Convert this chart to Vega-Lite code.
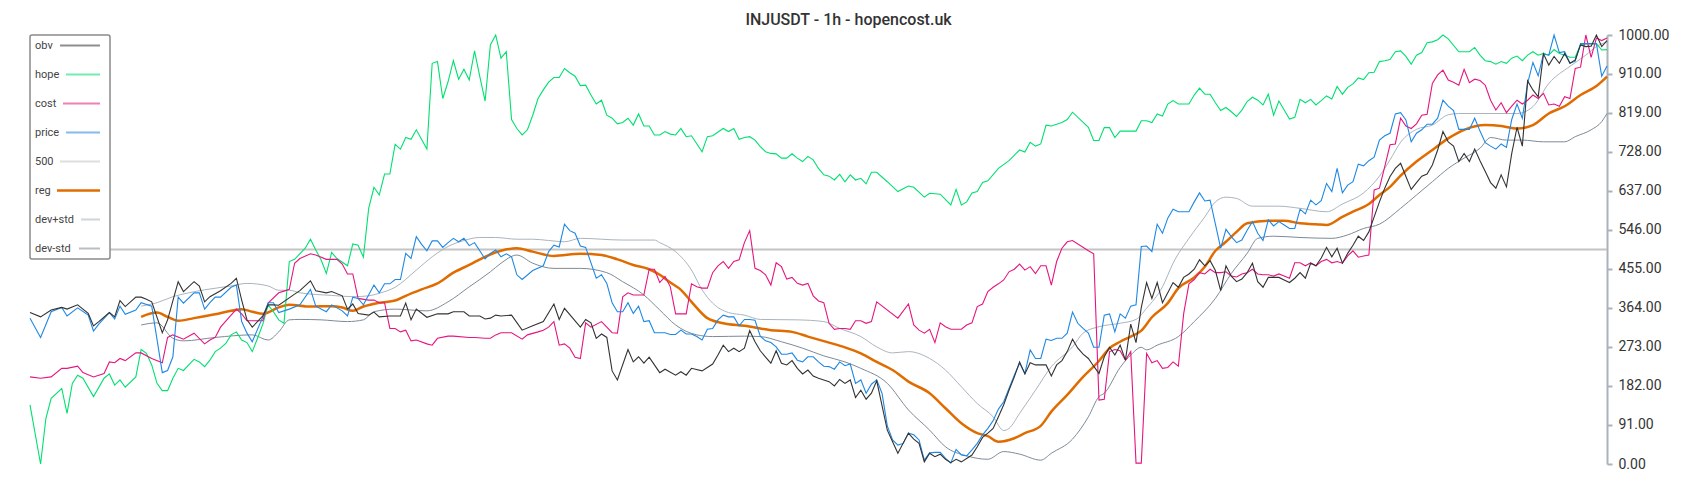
{
"$schema": "https://vega.github.io/schema/vega-lite/v6.json",
"width": 1577, "height": 429,
"autosize": {"type": "none"},
"padding": {"left": 30, "top": 35, "right": 93, "bottom": 36},
"background": "white",
"config": {"view": {"stroke": null}, "font": "Roboto"},
"title": {"text": "INJUSDT - 1h - hopencost.uk", "font": "Roboto", "fontSize": 16, "fontWeight": 500, "color": "#333333", "anchor": "middle", "frame": "group", "dx": 30, "dy": 15, "offset": 2, "baseline": "alphabetic"},
"data": {"values": [
{"i":0,"obv":353,"hope":138,"cost":203,"price":340},
{"i":2,"obv":343,"hope":0,"cost":200,"price":295},
{"i":3,"hope":106},
{"i":4,"obv":359,"hope":153,"cost":203,"price":355},
{"i":6,"obv":365,"hope":176,"cost":223,"price":365},
{"i":7,"obv":361,"hope":118,"cost":223,"price":345},
{"i":8,"hope":188},
{"i":9,"obv":371,"hope":207,"cost":228,"price":364},
{"i":10,"hope":200,"cost":213},
{"i":11,"obv":351,"price":347},
{"i":12,"obv":322,"hope":157,"cost":203,"price":310},
{"i":13,"obv":332,"price":326},
{"i":14,"hope":200,"cost":211},
{"i":15,"obv":353,"hope":210,"cost":238,"price":353},
{"i":16,"obv":343,"hope":184,"cost":236,"price":338},
{"i":17,"obv":381,"hope":196,"cost":246,"price":368},
{"i":18,"obv":367,"hope":179,"cost":241,"price":349},
{"i":20,"obv":389,"hope":203,"cost":259,"price":359},
{"i":21,"obv":389,"hope":267,"cost":259,"price":376,"reg":343,"dev+std":368,"dev-std":324},
{"i":22,"obv":384,"hope":258},
{"i":23,"obv":378,"hope":231,"cost":246,"price":368},
{"i":24,"hope":188,"reg":353,"dev+std":376,"dev-std":329},
{"i":25,"obv":306,"hope":171,"cost":236,"price":213},
{"i":26,"obv":336,"hope":171,"cost":295,"price":218,"reg":343},
{"i":27,"hope":200,"cost":301,"price":250,"dev+std":390,"dev-std":293},
{"i":28,"obv":425,"hope":223,"price":389,"reg":334},
{"i":29,"obv":402,"hope":218,"cost":291,"price":375,"dev-std":287},
{"i":30,"hope":231,"dev+std":399},
{"i":31,"obv":425,"hope":244,"cost":305,"price":399,"reg":340},
{"i":32,"obv":415,"hope":238,"price":399},
{"i":33,"obv":378,"hope":227,"cost":280,"price":361,"dev+std":406},
{"i":34,"obv":390,"hope":242,"cost":289,"price":376},
{"i":35,"hope":262,"cost":295,"price":389,"reg":349,"dev-std":295},
{"i":36,"obv":404,"hope":270,"cost":319,"price":389},
{"i":37,"hope":281},
{"i":38,"obv":421,"hope":301,"cost":347,"price":412,"reg":357,"dev+std":415},
{"i":39,"obv":433,"hope":308,"cost":361,"price":417},
{"i":40,"obv":382,"hope":289,"cost":350,"price":332,"reg":361},
{"i":41,"obv":336,"hope":283,"cost":334,"price":305,"dev+std":421},
{"i":42,"obv":319,"hope":262,"cost":334,"price":285,"reg":355,"dev-std":301},
{"i":43,"hope":293},
{"i":44,"obv":345,"hope":326,"cost":334,"price":343,"reg":350},
{"i":45,"obv":371,"hope":371,"cost":375,"price":376,"dev+std":415,"dev-std":289},
{"i":46,"obv":371,"hope":355,"price":376},
{"i":47,"obv":370,"hope":336,"cost":399,"price":353,"reg":365,"dev+std":405,"dev-std":308},
{"i":48,"hope":328,"cost":403},
{"i":49,"hope":472,"cost":407,"price":361,"reg":371,"dev+std":405,"dev-std":336},
{"i":50,"obv":396,"hope":477,"cost":468},
{"i":51,"obv":404,"cost":479,"price":371,"dev+std":399,"dev-std":337},
{"i":52,"hope":503},
{"i":53,"obv":427,"hope":524,"cost":490,"price":407,"reg":367},
{"i":54,"obv":404,"hope":499,"cost":487,"price":368},
{"i":55,"hope":476,"dev-std":336},
{"i":56,"obv":399,"hope":444,"cost":477,"price":355},
{"i":57,"obv":402,"hope":493,"price":371,"reg":368,"dev+std":393},
{"i":58,"hope":479,"cost":477},
{"i":59,"obv":392,"cost":466,"price":357,"reg":365},
{"i":60,"obv":361,"hope":462,"cost":443,"price":345,"dev-std":332},
{"i":61,"obv":373,"hope":513,"cost":443,"price":389,"reg":357,"dev+std":390},
{"i":62,"obv":351,"hope":510,"cost":386,"price":386},
{"i":63,"hope":482,"price":371,"reg":367,"dev-std":336},
{"i":64,"obv":347,"hope":596,"cost":382,"dev+std":392},
{"i":65,"obv":354,"hope":645,"cost":382,"price":417,"dev-std":355},
{"i":66,"obv":343,"hope":627,"cost":376,"price":399,"reg":376,"dev+std":398},
{"i":67,"hope":676,"cost":376,"price":420},
{"i":68,"obv":345,"hope":676,"cost":316,"price":420},
{"i":69,"obv":345,"hope":745,"cost":316,"price":430,"reg":381,"dev+std":412,"dev-std":361},
{"i":70,"obv":345,"hope":734,"cost":308,"price":430},
{"i":71,"obv":375,"hope":761,"cost":312,"price":491,"reg":392},
{"i":72,"obv":336,"hope":757,"cost":287,"price":479},
{"i":73,"obv":361,"hope":779,"cost":289,"price":530,"dev+std":452},
{"i":74,"price":512,"reg":407},
{"i":75,"obv":342,"hope":734,"cost":280,"price":497,"dev-std":357},
{"i":76,"hope":934,"cost":277,"price":520,"dev+std":483},
{"i":77,"obv":350,"hope":938,"cost":293,"price":520,"reg":421},
{"i":78,"hope":852,"price":505},
{"i":79,"obv":350,"hope":891,"cost":298,"price":516,"dev+std":507,"dev-std":378},
{"i":80,"obv":355,"hope":940,"cost":298,"price":526,"reg":446},
{"i":81,"obv":355,"hope":897,"price":518},
{"i":82,"obv":355,"hope":920,"price":526,"dev+std":521},
{"i":83,"obv":345,"hope":895,"cost":295,"price":509,"reg":464,"dev-std":413},
{"i":84,"hope":963,"cost":295,"price":516},
{"i":85,"obv":345,"hope":903,"dev+std":528},
{"i":86,"obv":338,"hope":846,"cost":293,"price":478,"reg":483},
{"i":87,"obv":340,"hope":977,"cost":293,"price":491,"dev-std":448},
{"i":88,"obv":347,"hope":1000,"cost":301,"price":499,"dev+std":528},
{"i":89,"obv":345,"hope":946,"cost":306,"price":483,"reg":497,"dev-std":468},
{"i":90,"hope":961,"price":490},
{"i":91,"obv":347,"hope":803,"cost":306,"price":483},
{"i":92,"hope":782,"price":441,"reg":503,"dev+std":524,"dev-std":487},
{"i":93,"obv":312,"hope":767,"cost":291,"price":430},
{"i":94,"hope":779,"cost":301},
{"i":95,"obv":322,"hope":813,"price":451,"reg":495,"dev+std":524,"dev-std":468},
{"i":96,"hope":852,"cost":308},
{"i":97,"obv":332,"hope":872,"cost":312,"price":462},
{"i":98,"hope":890,"cost":319,"price":495,"dev+std":521},
{"i":99,"obv":373,"hope":901,"cost":332,"price":510,"reg":485,"dev-std":456},
{"i":100,"obv":337,"hope":901,"cost":277,"price":506},
{"i":101,"obv":363,"hope":922,"cost":280,"price":559,"dev+std":518},
{"i":102,"hope":912,"cost":270,"price":544},
{"i":103,"hope":904,"cost":249,"price":538},
{"i":104,"obv":319,"hope":882,"cost":246,"price":508,"reg":490,"dev+std":526,"dev-std":456},
{"i":105,"obv":337,"hope":883,"cost":329,"price":505},
{"i":106,"obv":329,"hope":860,"cost":319},
{"i":107,"obv":293,"hope":839,"price":433},
{"i":108,"obv":303,"hope":848,"cost":332,"price":441,"reg":487},
{"i":109,"obv":295,"hope":813,"cost":319,"price":421,"dev-std":446},
{"i":110,"obv":217,"hope":806,"cost":306,"price":376},
{"i":111,"obv":196,"hope":793,"cost":305,"price":355,"reg":477},
{"i":112,"hope":796,"cost":390,"price":355,"dev+std":522,"dev-std":425},
{"i":113,"obv":267,"hope":806,"cost":399,"price":376},
{"i":114,"obv":238,"hope":790,"cost":394,"price":351,"reg":464},
{"i":115,"obv":250,"hope":816,"cost":394,"price":368},
{"i":116,"obv":235,"hope":788,"cost":394,"price":332,"dev-std":394},
{"i":117,"obv":249,"hope":788,"cost":454,"price":334,"reg":454},
{"i":118,"hope":767,"cost":454,"price":306,"dev+std":522},
{"i":119,"obv":213,"hope":767,"cost":423,"price":306,"reg":441,"dev+std":516,"dev-std":359},
{"i":120,"obv":221,"hope":775,"cost":437,"price":306},
{"i":121,"hope":769,"cost":413,"price":302,"reg":423},
{"i":122,"obv":207,"hope":767,"cost":350,"price":302,"dev+std":495,"dev-std":324},
{"i":123,"obv":215,"hope":782,"cost":350,"price":312,"reg":406},
{"i":124,"obv":207,"hope":763,"cost":350,"price":303},
{"i":125,"obv":223,"hope":765,"cost":420,"price":303,"reg":378,"dev+std":452},
{"i":126,"cost":413,"price":297,"dev-std":301},
{"i":127,"obv":217,"hope":728,"cost":410,"price":289,"dev+std":406},
{"i":128,"hope":763,"cost":410,"price":314,"reg":340},
{"i":129,"obv":233,"hope":765,"cost":446,"price":316,"dev+std":375,"dev-std":297},
{"i":130,"obv":254,"cost":462,"price":336},
{"i":131,"obv":277,"hope":782,"cost":472,"price":347,"reg":328},
{"i":132,"obv":262,"hope":775,"cost":456,"price":343,"dev+std":353},
{"i":133,"obv":270,"hope":782,"cost":472,"price":343},
{"i":134,"obv":262,"hope":757,"cost":476,"price":322},
{"i":135,"obv":270,"hope":761,"cost":516,"price":337,"reg":322,"dev+std":347,"dev-std":298},
{"i":136,"obv":311,"hope":763,"cost":544,"price":337},
{"i":137,"obv":285,"hope":755,"cost":456,"price":335},
{"i":138,"obv":264,"hope":740,"cost":451,"price":298,"dev+std":337,"dev-std":297},
{"i":139,"obv":249,"hope":728,"cost":441,"price":287},
{"i":140,"obv":235,"hope":724,"cost":417,"price":283,"reg":312},
{"i":141,"obv":264,"hope":723,"cost":469,"price":273},
{"i":142,"obv":235,"hope":713,"cost":460,"price":256,"dev-std":285},
{"i":143,"obv":231,"hope":713,"cost":431,"price":256},
{"i":144,"obv":241,"hope":723,"cost":435,"price":259,"reg":308},
{"i":145,"obv":223,"hope":713,"cost":421,"price":242,"dev+std":336},
{"i":146,"obv":210,"hope":705,"cost":417,"price":238,"dev-std":270},
{"i":147,"obv":219,"hope":717,"cost":421,"price":250,"reg":297},
{"i":148,"obv":205,"hope":709,"cost":392,"price":250},
{"i":149,"obv":200,"hope":689,"cost":380,"price":238},
{"i":150,"obv":196,"hope":674,"cost":376,"price":228,"dev+std":332,"dev-std":252},
{"i":151,"obv":192,"hope":671,"cost":328,"price":227,"reg":283},
{"i":152,"obv":182,"hope":662,"cost":314,"price":221},
{"i":153,"obv":197,"hope":675,"cost":316,"price":238,"dev+std":316},
{"i":154,"obv":188,"hope":658,"cost":316,"price":229,"reg":272,"dev-std":238},
{"i":155,"obv":196,"hope":674,"cost":314,"price":233},
{"i":156,"obv":155,"hope":662,"cost":334,"price":188},
{"i":157,"obv":172,"hope":666,"cost":334,"price":196,"reg":258,"dev+std":297,"dev-std":223},
{"i":158,"obv":151,"hope":653,"cost":328,"price":165},
{"i":159,"obv":165,"hope":680,"cost":332,"price":186},
{"i":160,"obv":194,"hope":680,"cost":378,"price":196,"reg":238,"dev+std":273},
{"i":161,"price":165},
{"i":162,"obv":79,"hope":658,"price":89,"dev-std":188},
{"i":163,"obv":52,"price":56,"reg":219,"dev+std":259},
{"i":164,"obv":25,"hope":635,"cost":340,"price":44},
{"i":165,"price":48},
{"i":166,"obv":72,"hope":648,"cost":373,"price":72,"reg":192,"dev+std":262,"dev-std":126},
{"i":167,"obv":58,"hope":645,"cost":324,"price":68},
{"i":168,"obv":48,"cost":312,"price":56},
{"i":169,"obv":5,"hope":622,"cost":305,"price":9},
{"i":170,"obv":25,"hope":631,"cost":314,"price":26,"reg":165,"dev+std":246,"dev-std":79},
{"i":171,"obv":17,"cost":283,"price":27},
{"i":172,"obv":23,"hope":629,"cost":329,"price":27},
{"i":173,"obv":11,"cost":320,"price":13,"reg":130,"dev+std":219,"dev-std":40},
{"i":174,"obv":3,"hope":604,"cost":314,"price":2},
{"i":175,"obv":11,"hope":640,"price":34},
{"i":176,"obv":5,"hope":604,"cost":314,"price":21,"reg":95,"dev+std":180},
{"i":177,"hope":611,"cost":324,"price":19,"dev-std":19},
{"i":178,"obv":21,"hope":632,"cost":329,"price":33},
{"i":179,"obv":40,"hope":635,"cost":367,"price":48,"reg":72,"dev+std":141},
{"i":180,"obv":62,"hope":656,"cost":373,"price":68},
{"i":181,"obv":72,"hope":660,"cost":402,"price":83,"reg":65,"dev-std":11},
{"i":182,"obv":83,"cost":412,"price":101,"dev+std":110},
{"i":183,"obv":110,"hope":689,"cost":420,"price":128,"reg":52},
{"i":184,"obv":138,"cost":429,"price":145,"dev+std":78,"dev-std":29},
{"i":185,"obv":172,"hope":707,"cost":448,"price":176,"dev+std":83},
{"i":186,"obv":203,"cost":454,"price":207,"reg":60},
{"i":187,"obv":238,"hope":732,"cost":466,"price":235,"dev+std":118,"dev-std":23},
{"i":188,"obv":210,"hope":727,"cost":452,"price":211,"reg":72},
{"i":189,"obv":236,"hope":750,"cost":460,"price":266},
{"i":190,"obv":231,"hope":741,"cost":444,"price":246,"dev+std":172},
{"i":191,"obv":231,"hope":746,"cost":462,"price":246,"reg":89,"dev-std":9},
{"i":192,"obv":231,"hope":790,"cost":462,"price":291},
{"i":193,"obv":205,"hope":788,"cost":417,"price":288,"reg":122,"dev+std":227,"dev-std":25},
{"i":194,"obv":231,"cost":472,"price":293},
{"i":195,"obv":241,"hope":796,"cost":503,"price":293},
{"i":196,"obv":262,"hope":803,"cost":518,"price":305,"reg":161},
{"i":197,"obv":291,"hope":820,"cost":521,"price":354,"dev+std":273,"dev-std":58},
{"i":198,"obv":270,"price":328},
{"i":199,"obv":256,"price":316,"reg":203,"dev+std":305},
{"i":200,"obv":246,"hope":785,"cost":497,"price":305,"dev-std":110},
{"i":201,"obv":228,"hope":754,"cost":490,"price":272},
{"i":202,"obv":211,"hope":754,"cost":149,"price":272,"reg":240,"dev+std":320,"dev-std":157},
{"i":203,"obv":250,"hope":784,"cost":151,"price":347,"dev-std":165},
{"i":204,"obv":272,"hope":784,"cost":262,"price":350,"reg":270},
{"i":205,"obv":254,"hope":761,"cost":267,"price":308},
{"i":206,"obv":277,"hope":776,"cost":264,"price":350,"reg":285,"dev+std":328,"dev-std":225},
{"i":207,"obv":242,"hope":776,"cost":242,"price":340},
{"i":208,"obv":326,"hope":776,"cost":262,"price":368,"reg":297,"dev-std":254},
{"i":209,"obv":283,"hope":776,"cost":2,"price":371,"dev+std":337},
{"i":210,"obv":365,"hope":800,"cost":2,"price":507,"reg":311,"dev-std":272},
{"i":211,"obv":423,"hope":800,"cost":258,"price":508,"dev+std":363,"dev-std":266},
{"i":212,"obv":386,"hope":796,"cost":236,"price":495,"reg":342},
{"i":213,"obv":423,"hope":816,"cost":241,"price":559,"dev-std":277},
{"i":214,"obv":376,"hope":811,"cost":223,"price":538,"dev+std":413},
{"i":215,"obv":399,"hope":839,"cost":225,"price":573,"reg":375},
{"i":216,"obv":423,"hope":847,"cost":238,"price":594,"dev+std":468},
{"i":217,"obv":412,"hope":839,"cost":228,"price":588,"reg":410,"dev-std":297},
{"i":218,"obv":435,"hope":839,"cost":350,"price":588},
{"i":219,"obv":443,"hope":839,"cost":420,"price":588,"dev+std":526},
{"i":220,"obv":454,"hope":860,"cost":430,"price":611,"reg":435,"dev-std":332},
{"i":221,"obv":476,"hope":876,"cost":446,"price":632},
{"i":222,"obv":462,"hope":862,"cost":443,"price":613,"reg":460,"dev+std":576},
{"i":223,"obv":474,"hope":862,"cost":454,"price":615},
{"i":224,"obv":451,"hope":842,"cost":446,"reg":497,"dev+std":611,"dev-std":386},
{"i":225,"obv":404,"hope":824,"cost":446,"price":503},
{"i":226,"obv":462,"hope":831,"cost":448,"price":547,"reg":518,"dev+std":622},
{"i":227,"obv":438,"hope":821,"cost":438,"price":530,"dev-std":444},
{"i":228,"obv":425,"hope":810,"cost":436,"price":516,"reg":541,"dev+std":619},
{"i":229,"obv":431,"hope":825,"cost":443,"price":522},
{"i":230,"obv":446,"hope":845,"cost":446,"price":545,"reg":561,"dev-std":491},
{"i":231,"obv":468,"hope":855,"cost":454,"price":565,"dev+std":601},
{"i":232,"obv":425,"hope":848,"cost":443,"price":538,"dev-std":526},
{"i":233,"obv":412,"hope":837,"cost":441,"price":521},
{"i":234,"obv":435,"hope":862,"cost":441,"price":569,"reg":567},
{"i":235,"obv":435,"hope":813,"cost":438,"price":555,"dev-std":531},
{"i":236,"obv":435,"hope":846,"cost":443,"price":565,"dev+std":601},
{"i":237,"obv":429,"hope":825,"cost":438,"price":557,"reg":567},
{"i":238,"obv":423,"hope":804,"cost":433,"price":549},
{"i":239,"obv":433,"hope":808,"cost":469,"price":549},
{"i":240,"obv":446,"hope":850,"cost":469,"price":594,"reg":561,"dev+std":596,"dev-std":528},
{"i":241,"obv":433,"hope":842,"cost":462,"price":583},
{"i":242,"obv":468,"hope":850,"cost":469,"price":615},
{"i":243,"obv":462,"hope":837,"cost":462,"price":604,"reg":559},
{"i":244,"obv":480,"hope":847,"cost":472,"price":614},
{"i":245,"obv":505,"hope":858,"cost":477,"price":654,"reg":557,"dev+std":588},
{"i":246,"obv":483,"hope":851,"cost":469,"price":635,"dev-std":526},
{"i":247,"obv":503,"hope":880,"cost":472,"price":689},
{"i":248,"obv":468,"hope":862,"cost":468,"price":632,"reg":576,"dev+std":606},
{"i":249,"obv":491,"hope":878,"cost":485,"price":650,"dev-std":534},
{"i":250,"obv":510,"hope":886,"cost":497,"price":658,"reg":588},
{"i":251,"obv":531,"hope":900,"cost":482,"price":699},
{"i":252,"obv":521,"hope":896,"cost":485,"price":695,"dev+std":632,"dev-std":549},
{"i":253,"obv":541,"hope":912,"cost":487,"price":707,"reg":606},
{"i":254,"obv":576,"hope":913,"cost":639,"price":715},
{"i":255,"obv":611,"hope":938,"cost":643,"price":755,"reg":627,"dev+std":671,"dev-std":559},
{"i":256,"obv":643,"hope":940,"cost":693,"price":765},
{"i":257,"obv":670,"hope":943,"cost":744,"price":771,"reg":646,"dev+std":709},
{"i":258,"obv":689,"hope":961,"cost":746,"price":816},
{"i":259,"obv":701,"hope":963,"cost":806,"price":819,"reg":672,"dev+std":750,"dev-std":596},
{"i":260,"obv":670,"hope":950,"cost":788,"price":802},
{"i":261,"obv":640,"hope":932,"cost":782,"price":751},
{"i":262,"obv":656,"hope":953,"cost":793,"price":771,"reg":705,"dev+std":780,"dev-std":627},
{"i":263,"obv":671,"hope":959,"cost":813,"price":779},
{"i":264,"obv":676,"hope":982,"cost":815,"price":792},
{"i":265,"obv":697,"hope":984,"cost":887,"price":792,"reg":732,"dev+std":790,"dev-std":658},
{"i":266,"obv":732,"hope":989,"cost":907,"price":806},
{"i":267,"obv":775,"hope":1000,"cost":918,"price":848},
{"i":268,"obv":751,"hope":991,"cost":895,"price":834,"reg":759,"dev+std":814,"dev-std":689},
{"i":269,"obv":741,"cost":890,"price":824},
{"i":270,"obv":705,"hope":961,"cost":883,"price":780,"dev+std":817},
{"i":271,"obv":724,"hope":961,"cost":920,"price":780,"reg":779,"dev-std":713},
{"i":272,"obv":705,"hope":961,"cost":889,"price":780},
{"i":273,"obv":734,"hope":971,"cost":897,"price":806},
{"i":274,"obv":707,"hope":953,"cost":894,"price":776,"dev-std":736},
{"i":275,"obv":682,"hope":940,"cost":883,"price":749,"reg":790},
{"i":276,"obv":656,"hope":938,"cost":848,"price":741,"dev-std":761},
{"i":277,"obv":643,"hope":932,"cost":825,"price":734},
{"i":278,"obv":674,"hope":938,"cost":842,"price":746,"reg":788},
{"i":279,"obv":646,"hope":934,"cost":819,"price":738,"dev-std":755},
{"i":280,"obv":724,"hope":946,"cost":834,"price":803},
{"i":281,"obv":785,"hope":951,"cost":848,"price":839,"reg":782,"dev+std":817},
{"i":282,"obv":741,"hope":940,"cost":839,"price":806,"dev-std":755},
{"i":283,"obv":893,"hope":953,"cost":848,"price":887},
{"i":284,"obv":872,"hope":961,"cost":860,"price":936,"reg":790,"dev+std":833},
{"i":285,"obv":856,"hope":953,"cost":852,"price":905},
{"i":286,"obv":956,"hope":957,"cost":864,"price":956,"dev-std":751},
{"i":287,"obv":930,"hope":953,"cost":837,"price":953,"reg":817,"dev+std":887},
{"i":288,"obv":950,"hope":966,"cost":839,"price":1000},
{"i":289,"obv":934,"hope":957,"cost":834,"price":959},
{"i":290,"obv":957,"hope":953,"cost":856,"price":961,"reg":834,"dev-std":751},
{"i":291,"obv":934,"hope":948,"cost":852,"price":934,"dev+std":927},
{"i":292,"obv":942,"hope":948,"cost":922,"price":939,"dev-std":763},
{"i":293,"obv":977,"hope":977,"cost":925,"price":980,"reg":860},
{"i":294,"obv":973,"hope":979,"cost":1000,"price":980,"dev+std":953},
{"i":295,"obv":974,"hope":979,"cost":948,"price":980,"dev-std":779},
{"i":296,"obv":1000,"hope":980,"cost":993,"price":980,"reg":881,"dev+std":973},
{"i":297,"obv":973,"hope":965,"cost":987,"price":904,"dev-std":798},
{"i":298,"obv":987,"hope":966,"cost":993,"price":928,"reg":903,"dev+std":984,"dev-std":817}
]},
"encoding": {
  "y": {"field": "v", "type": "quantitative",
    "scale": {"domain": [0, 1000], "nice": false, "zero": true},
    "axis": {"orient": "right", "values": [0, 91, 182, 273, 364, 455, 546, 637, 728, 819, 910, 1000], "format": ".2f", "labelFont": "Roboto", "labelFontSize": 14, "labelColor": "#333333", "domainColor": "#a9b3bb", "domainWidth": 2, "tickColor": "#a9b3bb", "tickWidth": 2, "tickSize": 5, "labelPadding": 6, "grid": false, "title": null, "labelFlush": false, "labelOverlap": false}},
  "color": {"field": "s", "type": "nominal",
    "scale": {"domain": ["obv", "hope", "cost", "price", "500", "reg", "dev+std", "dev-std"], "range": ["#333333", "#00e070", "#e6157f", "#1e88e5", "#c4c4c4", "#e06c00", "#aab4bd", "#7d8b97"]},
    "legend": {"title": null, "orient": "top-left", "offset": 0, "fillColor": "#ffffff", "strokeColor": "#8a8a8a", "padding": 5, "cornerRadius": 2,
      "labelFont": "Roboto", "labelFontSize": 11, "labelColor": "#444444", "symbolType": "stroke", "symbolStrokeWidth": 2, "symbolSize": 400, "rowPadding": 17,
      "encode": {
        "legend": {"update": {"strokeWidth": {"value": 1.5}}},
        "labels": {"update": {"x": {"value": 0}}},
        "symbols": {"update": {
          "x": {"signal": "datum.value === 'dev+std' ? 55.5 : datum.value === 'dev-std' ? 54.5 : (datum.value === 'hope' || datum.value === 'price') ? 48 : datum.value === 'cost' ? 46.5 : datum.value === 'reg' ? 43.5 : 45"},
          "size": {"signal": "datum.value === 'dev+std' ? 361 : datum.value === 'dev-std' ? 441 : (datum.value === 'hope' || datum.value === 'price') ? 1156 : datum.value === 'cost' ? 1369 : datum.value === 'reg' ? 1849 : 1600"},
          "opacity": {"signal": "datum.value === 'reg' ? 1 : 0.55"},
          "strokeWidth": {"signal": "datum.value === 'reg' ? 2.5 : 2"}
        }}
      }}}
},
"layer": [
  {"data": {"values": [{"s": "500", "v": 500}]}, "mark": {"type": "rule", "strokeWidth": 2}},
  {"transform": [{"fold": ["dev+std", "dev-std"], "as": ["s", "v"]}, {"filter": "isValid(datum.v)"}],
   "mark": {"type": "line", "strokeWidth": 1, "interpolate": "monotone"},
   "encoding": {"x": {"field": "i", "type": "quantitative", "scale": {"domain": [0, 298], "nice": false, "zero": false}, "axis": null}}},
  {"transform": [{"fold": ["reg"], "as": ["s", "v"]}, {"filter": "isValid(datum.v)"}],
   "mark": {"type": "line", "strokeWidth": 2.5, "interpolate": "monotone"},
   "encoding": {"x": {"field": "i", "type": "quantitative", "scale": {"domain": [0, 298], "nice": false, "zero": false}, "axis": null}}},
  {"transform": [{"fold": ["hope", "cost", "price", "obv"], "as": ["s", "v"]}, {"filter": "isValid(datum.v)"}],
   "mark": {"type": "line", "strokeWidth": 1.1},
   "encoding": {"x": {"field": "i", "type": "quantitative", "scale": {"domain": [0, 298], "nice": false, "zero": false}, "axis": null}}}
]
}
